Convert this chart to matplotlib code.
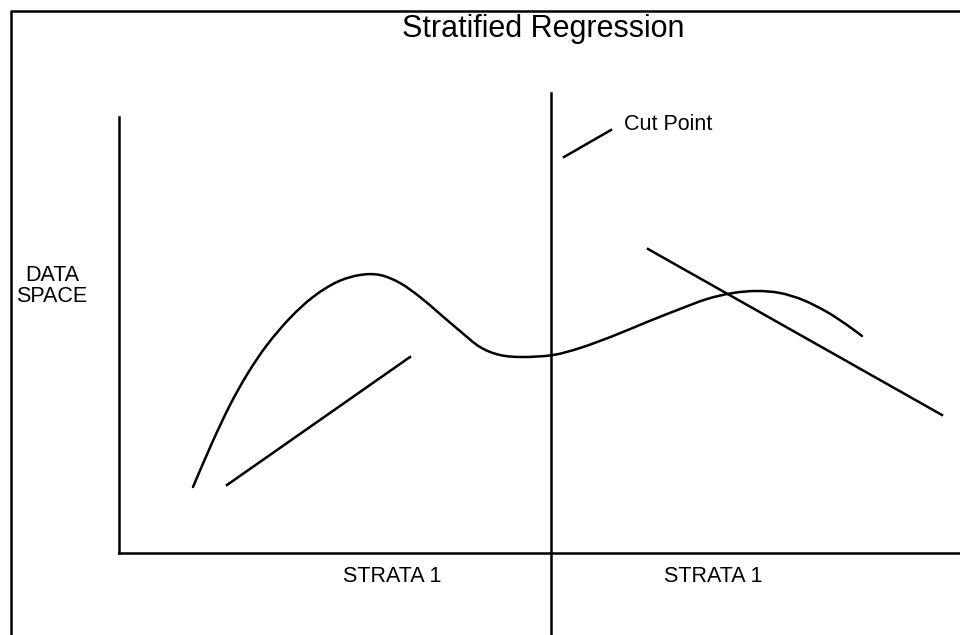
import matplotlib.pyplot as plt
from matplotlib.path import Path
from matplotlib.patches import PathPatch

# diagram coordinates (pixel space, y grows downward)
curve_x = [193, 212, 230, 248, 267, 290, 313, 337, 360, 380, 400, 420, 440, 460, 480,
           500, 523, 553, 580, 613, 647, 680, 707, 733, 757, 780, 803, 827, 847, 862]
curve_y = [487, 443, 405, 373, 345, 318, 297, 282, 275, 275, 283, 297, 314, 331, 347,
           355, 357, 355, 348, 336, 322, 309, 299, 293, 291, 293, 300, 312, 325, 336]

left_fit_x = [227, 410]
left_fit_y = [485, 357]
right_fit_x = [648, 942]
right_fit_y = [249, 415]

yaxis_x = [119, 119]
yaxis_y = [117, 553]
xaxis_x = [119, 960]
xaxis_y = [553, 553]
cut_x = [551, 551]
cut_y = [93, 635]
pointer_x = [564, 611]
pointer_y = [157, 130]

strata_labels = ['STRATA 1', 'STRATA 1']
strata_pos = [392, 713]

fig = plt.figure(figsize=(9.6, 6.35), dpi=100)
ax = fig.add_axes([0, 0, 1, 1])
ax.set_xlim(0, 960)
ax.set_ylim(635, 0)
ax.axis('off')

lw = 1.8

# smooth curve through the read points (Catmull-Rom turned into cubic bezier pieces)
pts = list(zip(curve_x, curve_y))
verts = [pts[0]]
codes = [Path.MOVETO]
for i in range(len(pts) - 1):
    p0 = pts[i - 1] if i > 0 else pts[i]
    p1, p2 = pts[i], pts[i + 1]
    p3 = pts[i + 2] if i + 2 < len(pts) else pts[i + 1]
    c1 = (p1[0] + (p2[0] - p0[0]) / 6, p1[1] + (p2[1] - p0[1]) / 6)
    c2 = (p2[0] - (p3[0] - p1[0]) / 6, p2[1] - (p3[1] - p1[1]) / 6)
    verts += [c1, c2, p2]
    codes += [Path.CURVE4] * 3
ax.add_patch(PathPatch(Path(verts, codes), fill=False, lw=lw, edgecolor='black', capstyle='round'))

ax.plot(left_fit_x, left_fit_y, color='black', lw=lw)
ax.plot(right_fit_x, right_fit_y, color='black', lw=lw)
ax.plot(yaxis_x, yaxis_y, color='black', lw=lw)
ax.plot(xaxis_x, xaxis_y, color='black', lw=lw)
ax.plot(cut_x, cut_y, color='black', lw=lw)
ax.plot(pointer_x, pointer_y, color='black', lw=lw)

# frame on the left and top edges
ax.plot([11, 11, 960], [635, 10.5, 10.5], color='black', lw=1.8)

font = ['Liberation Sans', 'DejaVu Sans']
ax.text(543, 29, 'Stratified Regression', ha='center', va='center', fontsize=22, family=font)
ax.text(624, 124, 'Cut Point', ha='left', va='center', fontsize=15.5, family=font)
ax.text(52, 286, 'DATA\nSPACE', ha='center', va='center', fontsize=15.5, family=font,
        linespacing=0.95, multialignment='center')
for lab, xp in zip(strata_labels, strata_pos):
    ax.text(xp, 577, lab, ha='center', va='center', fontsize=15.5, family=font)

fig.savefig('out.png', dpi=100)
